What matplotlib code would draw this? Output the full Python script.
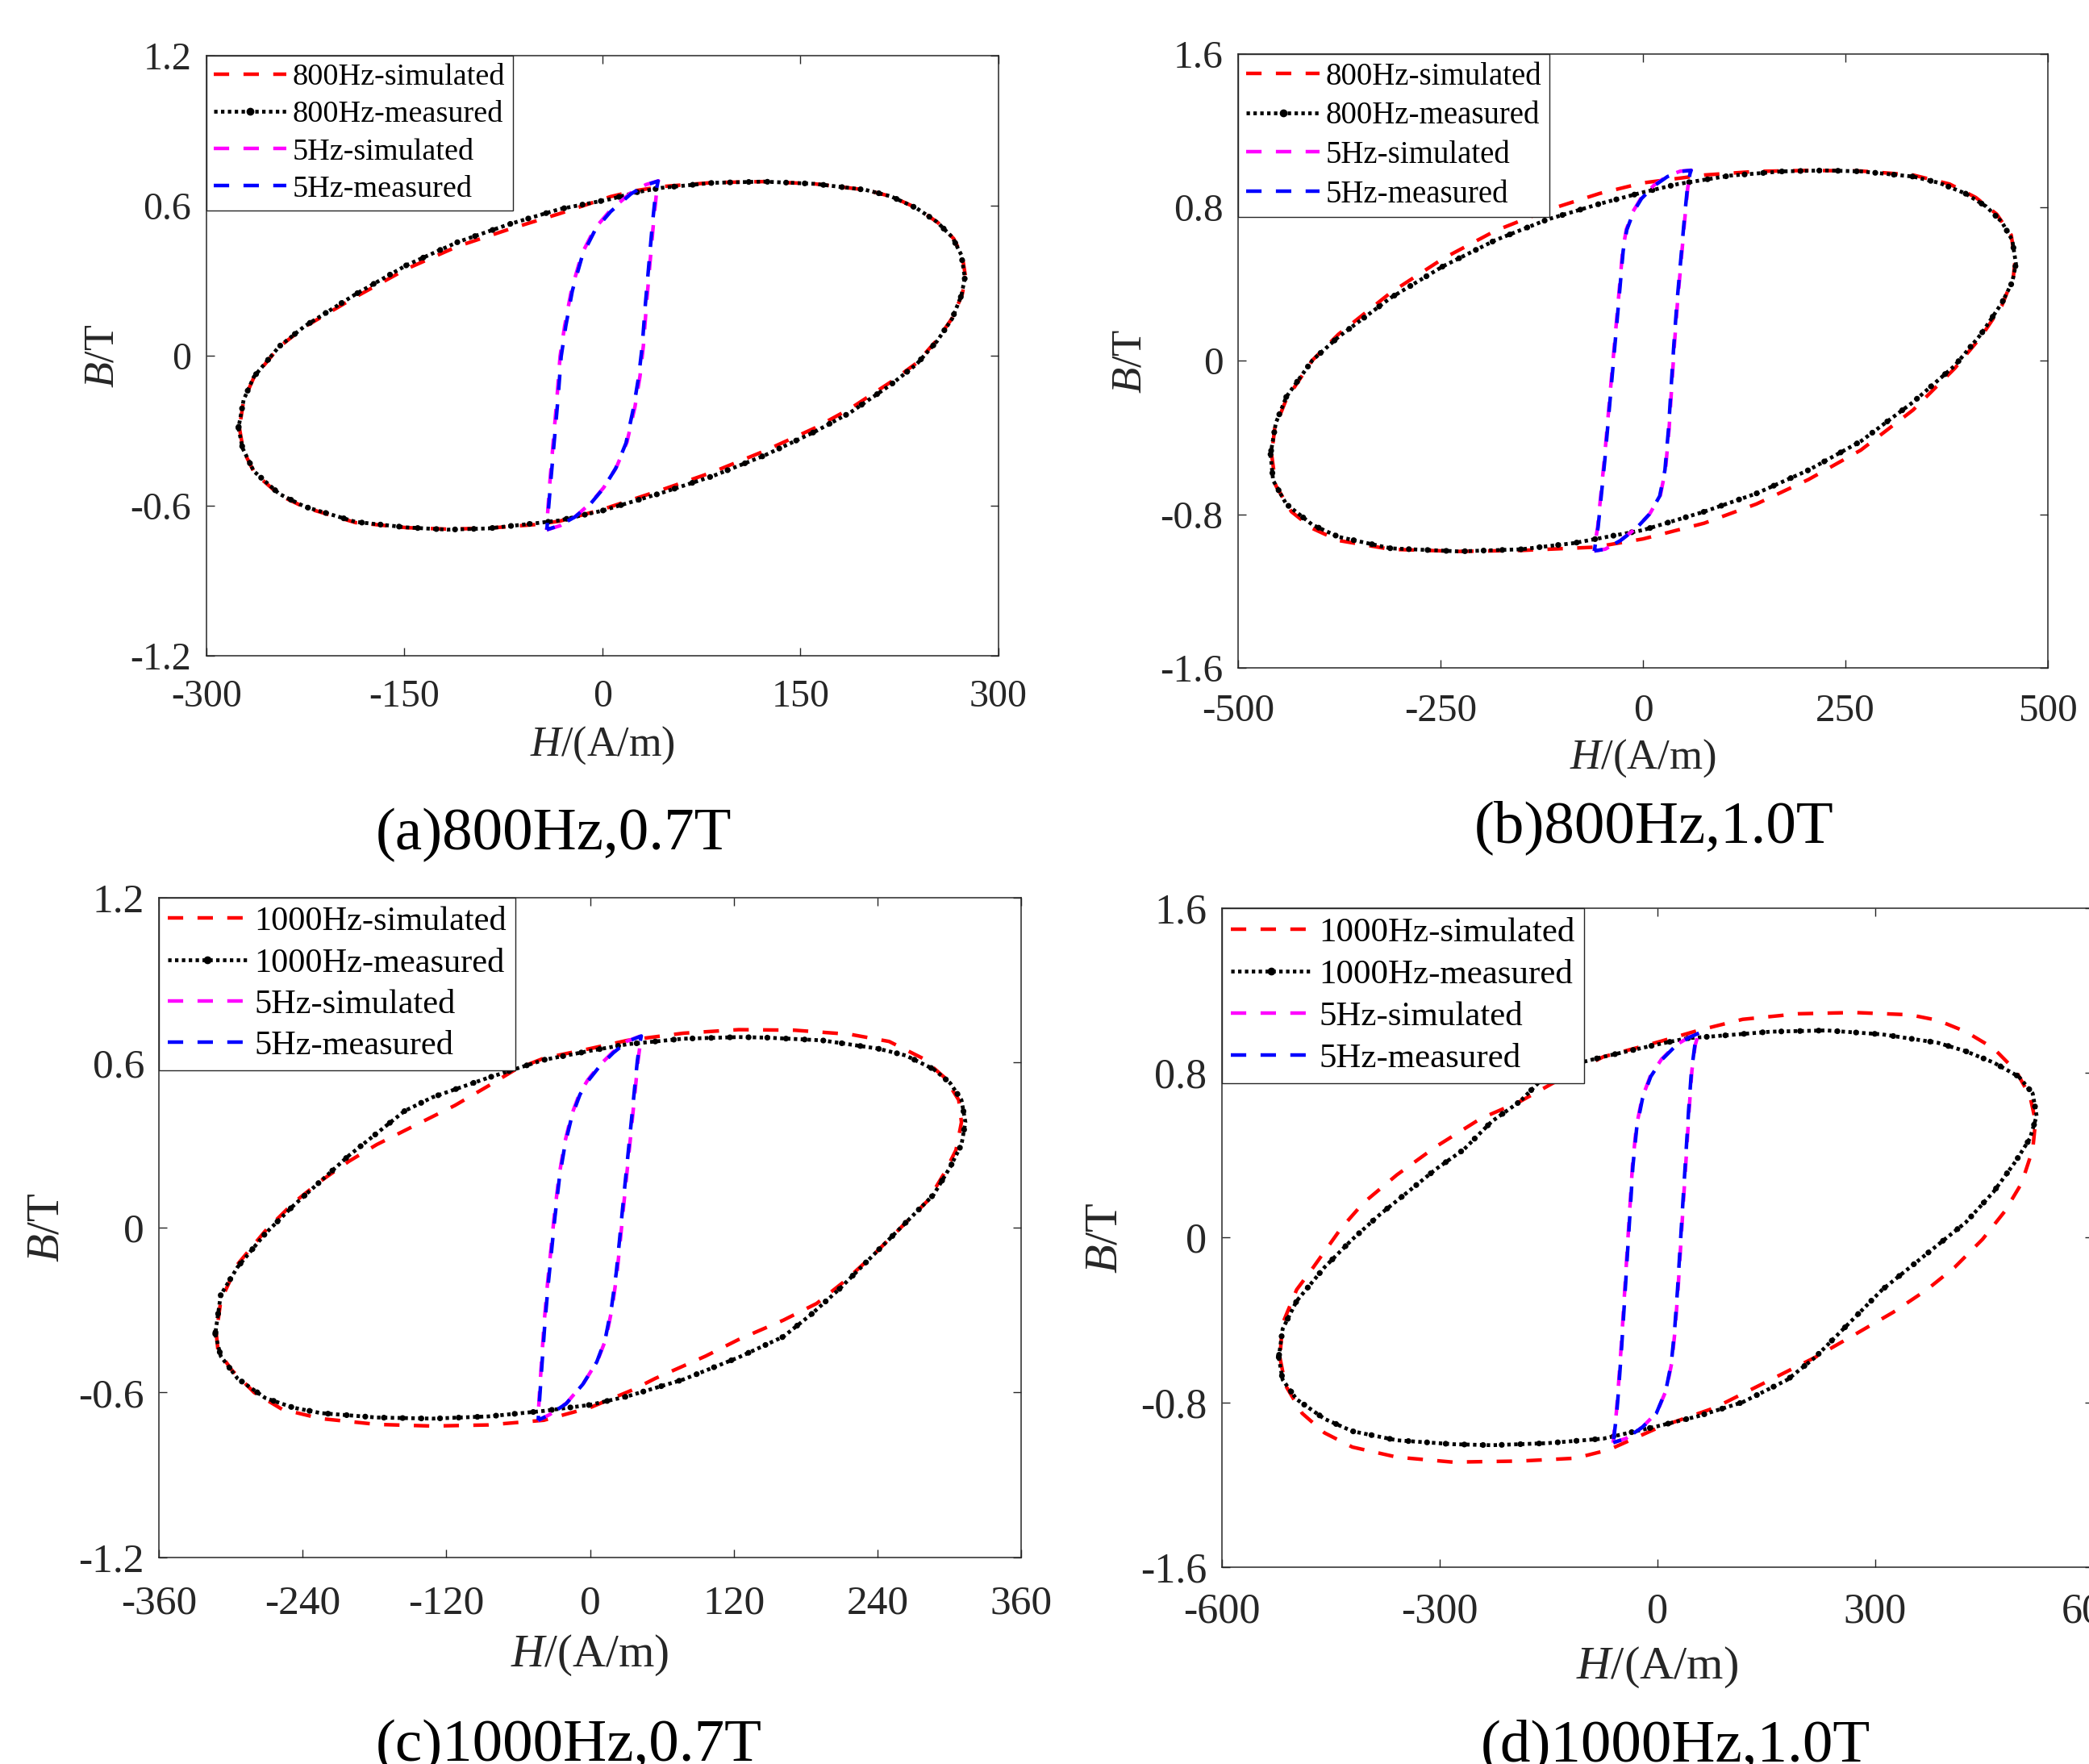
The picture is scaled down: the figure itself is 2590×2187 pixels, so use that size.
import numpy as np
import matplotlib
matplotlib.use('Agg')
import matplotlib.pyplot as plt
from matplotlib.lines import Line2D

plt.rcParams['font.family'] = ['Liberation Serif', 'DejaVu Serif']
plt.rcParams['mathtext.fontset'] = 'custom'
plt.rcParams['mathtext.rm'] = 'Liberation Serif'
plt.rcParams['mathtext.it'] = 'Liberation Serif:italic'
plt.rcParams['axes.unicode_minus'] = False

# ---------------- data: panel (a) 800 Hz, 0.7 T ----------------
a_meas_H = [-275.7, -272.6, -264.1, -244.8, -225.5, -186.9, -148.3, -117.4, -86.5, -51.7, -32.4, 0.0,
            44.8, 83.4, 122.0, 160.6, 187.6, 218.5, 237.8, 253.3, 264.9, 271.8, 274.5, 271.8, 264.9,
            253.3, 237.8, 218.5, 199.2, 160.6, 122.0, 83.4, 44.8, 25.5, 6.2, -32.4, -71.0, -109.7,
            -148.3, -186.9, -225.5, -244.8, -264.1, -271.8]
a_meas_B = [-0.289, -0.370, -0.462, -0.553, -0.604, -0.665, -0.687, -0.696, -0.691, -0.671, -0.659, -0.620,
            -0.549, -0.482, -0.401, -0.305, -0.228, -0.116, -0.035, 0.057, 0.148, 0.240, 0.311, 0.403, 0.474,
            0.535, 0.590, 0.637, 0.663, 0.687, 0.696, 0.691, 0.671, 0.653, 0.626, 0.586, 0.525, 0.454,
            0.362, 0.246, 0.118, 0.037, -0.085, -0.177]
a_sim_H = [-275.0, -272.0, -263.5, -244.0, -225.0, -186.9, -148.3, -117.4, -86.5, -51.7, -32.4, 0.0,
           44.8, 83.4, 122.0, 160.6, 187.6, 218.5, 237.8, 253.3, 264.9, 272.5, 275.0, 272.5, 266.0,
           254.5, 239.0, 219.0, 199.2, 160.6, 122.0, 83.4, 44.8, 25.5, 6.2, -32.4, -71.0, -109.7,
           -148.3, -186.9, -225.5, -244.8, -264.1, -271.8]
a_sim_B = [-0.289, -0.380, -0.470, -0.560, -0.608, -0.668, -0.688, -0.694, -0.690, -0.676, -0.662, -0.615,
           -0.537, -0.466, -0.383, -0.290, -0.212, -0.105, -0.030, 0.062, 0.150, 0.245, 0.315, 0.400, 0.468,
           0.530, 0.588, 0.636, 0.663, 0.687, 0.696, 0.692, 0.676, 0.660, 0.636, 0.568, 0.505, 0.437,
           0.347, 0.235, 0.115, 0.035, -0.088, -0.180]
a_5meas_H = [-42.1, -32.4, -20.8, -9.3, 0.4, 10.0, 17.8, 23.6, 27.4, 30.1, 32.4, 35.1, 37.8, 40.2, 42.1,
             33.2, 21.6, 6.2, -5.4, -15.1, -22.8, -27.8, -31.3, -33.6, -36.3, -39.0, -40.9]
a_5meas_B = [-0.696, -0.679, -0.645, -0.594, -0.533, -0.451, -0.350, -0.207, -0.085, 0.037, 0.199, 0.362,
             0.525, 0.647, 0.698, 0.683, 0.647, 0.576, 0.504, 0.403, 0.260, 0.118, -0.004, -0.167, -0.329,
             -0.492, -0.614]
a_5sim_H = [-42.3, -32.0, -20.4, -9.0, 0.9, 10.6, 18.6, 24.6, 28.4, 31.0, 33.3, 35.9, 38.6, 40.9, 42.4,
            33.0, 21.2, 5.8, -5.9, -15.7, -23.5, -28.6, -32.1, -34.4, -37.0, -39.6, -41.3]
a_5sim_B = [-0.697, -0.680, -0.643, -0.590, -0.528, -0.446, -0.345, -0.205, -0.083, 0.040, 0.203, 0.365,
            0.528, 0.650, 0.699, 0.684, 0.650, 0.580, 0.508, 0.406, 0.262, 0.120, -0.002, -0.165, -0.327,
            -0.490, -0.612]

# ---------------- data: panel (b) 800 Hz, 1.0 T ----------------
b_meas_H = [-460.0, -456.8, -440.6, -408.4, -376.1, -311.6, -227.7, -150.3, -85.8, 0.0, 75.5, 140.0,
            204.5, 269.0, 333.5, 385.2, 417.4, 443.2, 456.1, 460.6, 456.1, 443.2, 423.9, 398.1, 365.8,
            333.5, 269.0, 223.9, 172.3, 107.7, 43.2, 0.0, -53.5, -118.1, -182.6, -247.1, -311.6, -376.1,
            -408.4, -440.6, -453.5]
b_meas_B = [-0.487, -0.623, -0.746, -0.854, -0.917, -0.977, -0.993, -0.982, -0.950, -0.882, -0.786, -0.691,
            -0.569, -0.419, -0.215, -0.024, 0.139, 0.302, 0.411, 0.506, 0.629, 0.724, 0.805, 0.873, 0.928,
            0.961, 0.988, 0.993, 0.988, 0.966, 0.922, 0.879, 0.819, 0.737, 0.629, 0.493, 0.329, 0.125,
            0.003, -0.188, -0.324]
b_sim_H = [-458.7, -453.5, -434.2, -408.4, -376.1, -311.6, -227.7, -150.3, -60.0, 0.0, 75.5, 140.0,
           204.5, 269.0, 333.5, 385.2, 417.4, 443.2, 457.4, 459.4, 454.8, 436.8, 411.0, 378.7, 333.5,
           269.0, 204.5, 140.0, 75.5, 0.0, -53.5, -118.1, -182.6, -247.1, -311.6, -376.1, -408.4,
           -440.6, -454.8]
b_sim_B = [-0.487, -0.650, -0.786, -0.873, -0.936, -0.982, -0.993, -0.988, -0.971, -0.928, -0.846, -0.746,
           -0.618, -0.465, -0.256, -0.038, 0.125, 0.288, 0.438, 0.520, 0.656, 0.765, 0.852, 0.922, 0.969,
           0.990, 0.993, 0.988, 0.969, 0.928, 0.873, 0.786, 0.678, 0.533, 0.356, 0.139, 0.003,
           -0.201, -0.351]
b_5meas_H = [-60.0, -47.1, -27.7, -8.4, 7.7, 20.6, 27.1, 31.6, 34.8, 38.1, 41.9, 46.5, 51.0, 54.8, 58.1,
             59.4, 46.5, 30.3, 14.2, -1.9, -11.6, -20.0, -24.5, -29.0, -33.5, -38.1, -42.6, -47.1, -51.6,
             -55.5, -58.7]
b_5meas_B = [-0.990, -0.982, -0.936, -0.873, -0.800, -0.705, -0.569, -0.351, -0.133, 0.084, 0.302, 0.520,
             0.737, 0.901, 0.977, 0.993, 0.988, 0.961, 0.914, 0.846, 0.778, 0.683, 0.574, 0.356, 0.139,
             -0.079, -0.297, -0.514, -0.705, -0.868, -0.950]
b_5sim_H = [-60.4, -46.5, -27.0, -7.6, 8.5, 21.4, 27.8, 32.3, 35.5, 38.8, 42.6, 47.1, 51.6, 55.3, 58.5,
            59.7, 46.0, 29.8, 13.6, -2.5, -12.2, -20.6, -25.1, -29.6, -34.1, -38.7, -43.2, -47.7, -52.2,
            -56.0, -59.1]
b_5sim_B = [-0.991, -0.981, -0.933, -0.869, -0.796, -0.701, -0.566, -0.349, -0.131, 0.086, 0.304, 0.522,
            0.739, 0.903, 0.978, 0.994, 0.989, 0.963, 0.916, 0.848, 0.780, 0.685, 0.576, 0.358, 0.141,
            -0.077, -0.295, -0.512, -0.703, -0.866, -0.949]

# ---------------- data: panel (c) 1000 Hz, 0.7 T ----------------
c_meas_H = [-313.0, -308.4, -294.4, -271.2, -247.9, -224.7, -178.1, -131.6, -85.1, -38.6, 0.0, 31.2,
            77.7, 124.2, 161.4, 184.7, 207.9, 240.5, 263.7, 287.0, 300.9, 310.2, 313.5, 310.2, 300.9,
            287.0, 263.7, 240.5, 194.0, 147.4, 124.2, 77.7, 31.2, 0.0, -38.6, -85.1, -131.6, -154.9,
            -178.1, -201.4, -224.7, -247.9, -271.2, -294.4, -308.4]
c_meas_B = [-0.387, -0.468, -0.549, -0.620, -0.655, -0.675, -0.691, -0.695, -0.687, -0.667, -0.645, -0.614,
            -0.553, -0.472, -0.397, -0.316, -0.225, -0.083, 0.018, 0.120, 0.221, 0.302, 0.383, 0.464, 0.525,
            0.576, 0.626, 0.651, 0.681, 0.691, 0.693, 0.687, 0.667, 0.643, 0.610, 0.545, 0.474, 0.424,
            0.343, 0.262, 0.170, 0.079, -0.022, -0.144, -0.245]
c_sim_H = [-312.1, -310.7, -299.1, -280.5, -257.2, -224.7, -178.1, -131.6, -85.1, -38.6, 0.0, 35.8,
           54.4, 96.3, 124.2, 161.4, 189.3, 212.6, 235.8, 259.1, 282.3, 296.3, 305.6, 310.2, 307.9,
           296.3, 277.7, 249.8, 217.2, 170.7, 124.2, 77.7, 31.2, 0.0, -38.6, -61.9, -85.1, -113.0,
           -150.2, -178.1, -201.4, -224.7, -247.9, -271.2, -294.4, -308.4]
c_sim_B = [-0.387, -0.448, -0.519, -0.600, -0.661, -0.695, -0.716, -0.722, -0.718, -0.701, -0.655, -0.590,
           -0.549, -0.468, -0.407, -0.337, -0.276, -0.195, -0.103, -0.002, 0.099, 0.201, 0.282, 0.383, 0.464,
           0.545, 0.616, 0.677, 0.703, 0.718, 0.720, 0.707, 0.681, 0.651, 0.616, 0.576, 0.515, 0.444,
           0.363, 0.302, 0.241, 0.170, 0.089, -0.012, -0.134, -0.266]
c_5meas_H = [-43.3, -34.0, -20.0, -6.0, 5.6, 12.6, 18.1, 21.9, 24.7, 27.4, 30.2, 33.5, 36.7, 39.5, 41.4,
             42.8, 31.2, 19.5, 7.9, -1.4, -8.4, -15.3, -20.9, -25.6, -29.3, -32.1, -34.9, -37.7, -40.0, -41.9]
c_5meas_B = [-0.701, -0.681, -0.641, -0.570, -0.489, -0.408, -0.286, -0.164, -0.043, 0.079, 0.201, 0.343,
             0.484, 0.606, 0.667, 0.697, 0.677, 0.636, 0.586, 0.535, 0.484, 0.403, 0.302, 0.180, 0.039,
             -0.083, -0.205, -0.347, -0.489, -0.610]
c_5sim_H = [-43.5, -33.6, -19.5, -5.4, 6.2, 13.3, 18.8, 22.6, 25.4, 28.1, 30.9, 34.2, 37.4, 40.1, 41.9,
            43.1, 30.8, 19.0, 7.4, -1.9, -8.9, -15.8, -21.4, -26.1, -29.9, -32.7, -35.5, -38.3, -40.5, -42.3]
c_5sim_B = [-0.702, -0.680, -0.638, -0.566, -0.485, -0.405, -0.284, -0.162, -0.041, 0.081, 0.203, 0.345,
            0.486, 0.608, 0.668, 0.698, 0.678, 0.638, 0.588, 0.537, 0.486, 0.405, 0.304, 0.182, 0.041,
            -0.081, -0.203, -0.345, -0.487, -0.608]

# ---------------- data: panel (d) 1000 Hz, 1.0 T ----------------
d_meas_H = [-521.6, -516.3, -497.0, -458.6, -420.2, -358.8, -282.0, -228.2, -151.3, -74.5, 0.0, 56.1,
            117.5, 179.0, 217.4, 271.2, 309.6, 386.4, 424.8, 463.2, 494.0, 513.2, 522.4, 517.0, 497.8,
            463.2, 424.8, 386.4, 309.6, 232.8, 156.0, 79.1, 40.7, 0.0, -74.5, -120.6, -151.3, -189.8,
            -228.2, -266.6, -305.0, -343.4, -381.8, -420.2, -458.6, -497.0, -516.3]
d_meas_B = [-0.581, -0.690, -0.785, -0.880, -0.940, -0.984, -1.003, -1.008, -0.998, -0.976, -0.916, -0.867,
            -0.799, -0.690, -0.581, -0.390, -0.253, -0.035, 0.074, 0.223, 0.373, 0.482, 0.591, 0.700, 0.782,
            0.850, 0.905, 0.946, 0.987, 1.006, 1.000, 0.978, 0.968, 0.938, 0.878, 0.837, 0.796, 0.660,
            0.564, 0.428, 0.333, 0.223, 0.114, -0.008, -0.144, -0.308, -0.444]
d_sim_H = [-520.1, -512.4, -489.4, -458.6, -420.2, -358.8, -282.0, -189.8, -112.9, -66.8, 2.3, 79.1,
           156.0, 217.4, 271.2, 325.0, 371.1, 409.5, 447.9, 478.6, 501.7, 517.0, 520.9, 513.2, 494.0,
           463.2, 424.8, 386.4, 348.0, 271.2, 194.4, 117.5, 56.1, 2.3, -74.5, -120.6, -189.8, -243.5,
           -305.0, -358.8, -404.9, -435.6, -474.0, -497.0, -516.3]
d_sim_B = [-0.581, -0.717, -0.853, -0.948, -1.017, -1.066, -1.090, -1.085, -1.071, -1.030, -0.921, -0.826,
           -0.690, -0.581, -0.472, -0.362, -0.253, -0.144, -0.008, 0.128, 0.264, 0.428, 0.564, 0.687, 0.809,
           0.919, 1.000, 1.055, 1.082, 1.093, 1.087, 1.060, 1.006, 0.951, 0.878, 0.796, 0.660, 0.578,
           0.442, 0.305, 0.169, 0.046, -0.144, -0.253, -0.417]
d_5meas_H = [-60.7, -43.8, -20.7, -1.5, 11.5, 19.2, 23.8, 27.7, 31.5, 35.3, 39.2, 43.0, 46.9, 51.5, 56.1,
             58.4, 44.6, 25.4, 6.1, -9.2, -20.7, -28.4, -33.8, -37.6, -41.5, -45.3, -49.2, -53.0, -56.1, -59.2]
d_5meas_B = [-0.995, -0.976, -0.921, -0.853, -0.744, -0.608, -0.444, -0.253, -0.035, 0.183, 0.401, 0.619,
             0.809, 0.932, 0.989, 0.995, 0.973, 0.932, 0.864, 0.782, 0.673, 0.537, 0.346, 0.128, -0.090,
             -0.308, -0.526, -0.717, -0.853, -0.948]
d_5sim_H = [-60.9, -43.2, -20.1, -0.8, 12.2, 19.9, 24.5, 28.4, 32.2, 36.0, 39.9, 43.7, 47.5, 52.0, 56.5,
            58.7, 44.1, 24.9, 5.6, -9.8, -21.3, -29.0, -34.4, -38.2, -42.1, -45.9, -49.8, -53.6, -56.6, -59.6]
d_5sim_B = [-0.996, -0.975, -0.918, -0.849, -0.740, -0.605, -0.442, -0.251, -0.033, 0.185, 0.403, 0.621,
            0.811, 0.934, 0.990, 0.996, 0.974, 0.934, 0.866, 0.784, 0.675, 0.539, 0.348, 0.130, -0.088,
            -0.306, -0.524, -0.715, -0.851, -0.946]

# ---------------- ticks / labels ----------------
a_xticks = [-300, -150, 0, 150, 300]
a_yticks = [-1.2, -0.6, 0, 0.6, 1.2]
a_yticklabels = ['-1.2', '-0.6', '0', '0.6', '1.2']
b_xticks = [-500, -250, 0, 250, 500]
b_yticks = [-1.6, -0.8, 0, 0.8, 1.6]
b_yticklabels = ['-1.6', '-0.8', '0', '0.8', '1.6']
c_xticks = [-360, -240, -120, 0, 120, 240, 360]
c_yticks = [-1.2, -0.6, 0, 0.6, 1.2]
c_yticklabels = ['-1.2', '-0.6', '0', '0.6', '1.2']
d_xticks = [-600, -300, 0, 300, 600]
d_yticks = [-1.6, -0.8, 0, 0.8, 1.6]
d_yticklabels = ['-1.6', '-0.8', '0', '0.8', '1.6']

legend_800 = ['800Hz-simulated', '800Hz-measured', '5Hz-simulated', '5Hz-measured']
legend_1000 = ['1000Hz-simulated', '1000Hz-measured', '5Hz-simulated', '5Hz-measured']
titles = ['(a)800Hz,0.7T', '(b)800Hz,1.0T', '(c)1000Hz,0.7T', '(d)1000Hz,1.0T']

panels = [
    dict(rect=[0.0988, 0.6283, 0.3792, 0.3402], xlim=(-300, 300), ylim=(-1.2, 1.2),
         xt=a_xticks, yt=a_yticks, ytl=a_yticklabels,
         data=(a_sim_H, a_sim_B, a_meas_H, a_meas_B, a_5sim_H, a_5sim_B, a_5meas_H, a_5meas_B),
         leg=legend_800, tfs=34.5, lfs=37.5, gfs=27.5, xpad=21.0, ypad=13.5,
         xlab=-0.150, ylab=-0.131, title=titles[0], txy=(0.2649, 0.5185)),
    dict(rect=[0.5927, 0.6214, 0.3876, 0.3480], xlim=(-500, 500), ylim=(-1.6, 1.6),
         xt=b_xticks, yt=b_yticks, ytl=b_yticklabels,
         data=(b_sim_H, b_sim_B, b_meas_H, b_meas_B, b_5sim_H, b_5sim_B, b_5meas_H, b_5meas_B),
         leg=legend_800, tfs=35.5, lfs=38.0, gfs=28.0, xpad=23.0, ypad=13.5,
         xlab=-0.147, ylab=-0.1335, title=titles[1], txy=(0.7919, 0.5226)),
    dict(rect=[0.0761, 0.1171, 0.4127, 0.3740], xlim=(-360, 360), ylim=(-1.2, 1.2),
         xt=c_xticks, yt=c_yticks, ytl=c_yticklabels,
         data=(c_sim_H, c_sim_B, c_meas_H, c_meas_B, c_5sim_H, c_5sim_B, c_5meas_H, c_5meas_B),
         leg=legend_1000, tfs=37.0, lfs=41.0, gfs=30.5, xpad=24.5, ypad=13.0,
         xlab=-0.148, ylab=-0.130, title=titles[2], txy=(0.2722, 0.0018)),
    dict(rect=[0.5849, 0.1116, 0.4170, 0.3736], xlim=(-600, 600), ylim=(-1.6, 1.6),
         xt=d_xticks, yt=d_yticks, ytl=d_yticklabels,
         data=(d_sim_H, d_sim_B, d_meas_H, d_meas_B, d_5sim_H, d_5sim_B, d_5meas_H, d_5meas_B),
         leg=legend_1000, tfs=37.5, lfs=42.0, gfs=31.0, xpad=22.5, ypad=13.5,
         xlab=-0.152, ylab=-0.1333, title=titles[3], txy=(0.8019, 0.0018)),
]

AX = '#262626'
DASH = (0, (4.3, 4.0))

fig = plt.figure(figsize=(25.9, 21.87), dpi=100)

def closed(h, b):
    return list(h) + [h[0]], list(b) + [b[0]]

for p in panels:
    ax = fig.add_axes(p['rect'])
    sH, sB, mH, mB, s5H, s5B, m5H, m5B = p['data']
    x, y = closed(sH, sB)
    ax.plot(x, y, color='#FF0000', lw=3.2, ls=DASH)
    x, y = closed(mH, mB)
    ax.plot(x, y, color='k', lw=3.4, ls=(0, (0.9, 0.9)))
    ax.plot(x, y, color='k', lw=5.2, ls=(0, (0.01, 3.2)), dash_capstyle='round')
    x, y = closed(s5H, s5B)
    ax.plot(x, y, color='#FF00FF', lw=3.2, ls=DASH)
    x, y = closed(m5H, m5B)
    ax.plot(x, y, color='#0000FF', lw=3.2, ls=(2.0, (4.3, 4.0)))

    ax.set_xlim(*p['xlim'])
    ax.set_ylim(*p['ylim'])
    ax.set_xticks(p['xt'])
    ax.set_xticklabels([str(v) for v in p['xt']])
    ax.set_yticks(p['yt'])
    ax.set_yticklabels(p['ytl'])
    ax.tick_params(direction='in', top=True, right=True, length=7.5, width=1.0,
                   labelsize=p['tfs'], colors=AX, labelcolor=AX)
    ax.tick_params(axis='x', pad=p['xpad'])
    ax.tick_params(axis='y', pad=p['ypad'])
    for s in ax.spines.values():
        s.set_color(AX)
        s.set_linewidth(1.1)

    ax.set_xlabel(r'$H$/(A/m)', fontsize=p['lfs'], color=AX)
    ax.xaxis.label.set_va('center')
    ax.xaxis.set_label_coords(0.5, p['xlab'])
    ax.set_ylabel(r'$B$/T', fontsize=p['lfs'], color=AX)
    ax.yaxis.label.set_va('center')
    ax.yaxis.set_label_coords(p['ylab'], 0.5)

    handles = [Line2D([], [], color='#FF0000', lw=3.2, ls=DASH),
               Line2D([], [], color='k', lw=3.4, ls=(0, (0.9, 0.9)), marker='.', markersize=12),
               Line2D([], [], color='#FF00FF', lw=3.2, ls=DASH),
               Line2D([], [], color='#0000FF', lw=3.2, ls=DASH)]
    leg = ax.legend(handles, p['leg'], loc='upper left', bbox_to_anchor=(0, 1),
                    borderaxespad=0, fontsize=p['gfs'], numpoints=1, fancybox=False,
                    framealpha=1, edgecolor=AX, handlelength=2.35, handletextpad=0.2,
                    labelspacing=0.3, borderpad=0.25)
    leg.get_frame().set_linewidth(1.0)
    for t in leg.get_texts():
        t.set_color('k')

    fig.text(p['txy'][0], p['txy'][1], p['title'], fontsize=54, ha='center', va='baseline',
             color='k')

fig.savefig('out.png', dpi=100, facecolor='white')
